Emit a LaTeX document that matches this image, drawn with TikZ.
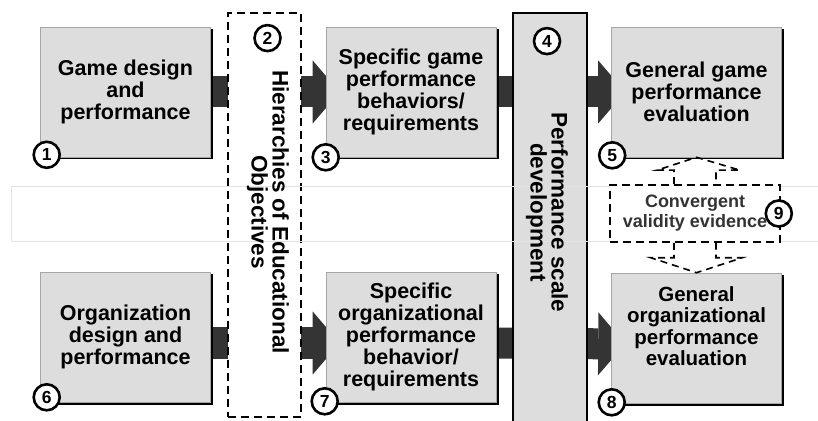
\documentclass[tikz,border=0pt]{standalone}
\usepackage{fontspec}
\setmainfont{Liberation Sans}
\usetikzlibrary{arrows.meta,shadows,backgrounds}
\definecolor{boxgray}{RGB}{221,221,221}
\definecolor{arrowgray}{RGB}{52,52,52}
\begin{document}
\begin{tikzpicture}[x=1pt,y=1pt]
    \tikzstyle{every node}+=[inner sep=0pt, align=center]
    \tikzstyle{box}=[draw=gray!70, line width=0.6pt, fill=boxgray, minimum width=170pt, minimum height=130pt, font=\fontsize{21.5}{22}\selectfont\bfseries, drop shadow={shadow xshift=2.5pt, shadow yshift=-2.5pt, fill=black, opacity=1}]
    \tikzstyle{num}=[circle, draw=black, line width=2.6pt, fill=white, minimum size=26pt, font=\fontsize{17.5}{17.5}\selectfont\bfseries]
    \tikzstyle{dashbox}=[draw=black, line width=1.8pt, dash pattern=on 8pt off 5pt, fill=white]
    \tikzstyle{sidetext}=[rotate=-90, font=\fontsize{22.5}{21}\selectfont\bfseries]
    \tikzstyle{bigarrow}=[draw=arrowgray, line width=31pt, -{Triangle[length=27pt, width=63pt, line width=0pt, fill=arrowgray]}]
    \tikzstyle{hollowarrow}=[draw=black, line width=1.6pt, dash pattern=on 7pt off 5pt, line join=miter]
    \useasboundingbox (0,0) rectangle (818,420);
    \node [box] (b1) at (125.5,328) {Game design\\and\\performance};
    \node [box] (b3) at (411,328) {Specific game\\performance\\behaviors/\\requirements};
    \node [box] (b5) at (696.5,328) {General game\\performance\\evaluation};
    \node [box] (b6) at (125.5,83) {Organization\\design and\\performance};
    \node [box] (b7) at (411,83) {Specific\\organizational\\performance\\behavior/\\requirements};
    \node [box] (b8) at (696.5,82) {};
    \node [font=\fontsize{20.5}{21.5}\selectfont\bfseries] (b8text) at (696.5,94) {General\\organizational\\performance\\evaluation};
    \begin{scope}[on background layer]
    \draw [bigarrow] (b1.east) -- ([xshift=14pt]b3.west);
    \draw [bigarrow] (b3.east) -- ([xshift=14pt]b5.west);
    \draw [bigarrow] ([yshift=-6pt]b6.east) -- ([shift={(14pt,-6pt)}]b7.west);
    \draw [bigarrow] ([yshift=-6pt]b7.east) -- ([shift={(14pt,-6pt)}]b8.west);
    \end{scope}
    \node [dashbox, minimum width=73pt, minimum height=404pt] (hier) at (264.5,205) {};
    \node [draw=black, line width=1.8pt, fill=boxgray, minimum width=74pt, minimum height=420pt] (scale) at (550,197) {};
    \draw [gray!22, line width=0.8pt] (818,234) -- (11,234) -- (11,179) -- (818,179);
    \node [sidetext] (hiertext) at (268,208) {Hierarchies of Educational\\Objectives};
    \node [sidetext] (scaletext) at (547,207.5) {Performance scale\\development};
    \node [dashbox, line width=1.6pt, minimum width=170pt, minimum height=57pt, text=black!80, font=\fontsize{18}{20}\selectfont\bfseries] (b9) at (695,206.5) {Convergent\\validity evidence};
    \draw [hollowarrow] ([xshift=-21pt]b9.north) -- ([shift={(-21pt,14pt)}]b9.north) -- ([shift={(-38pt,14pt)}]b9.north) -- (b5.south) -- ([shift={(45pt,14pt)}]b9.north) -- ([shift={(21pt,14pt)}]b9.north) -- ([xshift=21pt]b9.north);
    \draw [hollowarrow] ([xshift=-21pt]b9.south) -- ([shift={(-21pt,-15pt)}]b9.south) -- ([shift={(-44pt,-15pt)}]b9.south) -- (b8.north) -- ([shift={(47pt,-15pt)}]b9.south) -- ([shift={(21pt,-15pt)}]b9.south) -- ([xshift=21pt]b9.south);
    \node [num] (n1) at ([shift={(6.5pt,2.5pt)}]b1.south west) {1};
    \node [num] (n2) at ([shift={(3pt,-26pt)}]hier.north) {2};
    \node [num] (n3) at (b3.south west) {3};
    \node [num] (n4) at ([shift={(-3pt,-29pt)}]scale.north) {4};
    \node [num] (n5) at ([shift={(1pt,2pt)}]b5.south west) {5};
    \node [num] (n6) at ([shift={(6.5pt,5pt)}]b6.south west) {6};
    \node [num] (n7) at ([shift={(-1pt,1pt)}]b7.south west) {7};
    \node [num] (n8) at ([shift={(0.5pt,1pt)}]b8.south west) {8};
    \node [num] (n9) at ([xshift=-2pt]b9.east) {9};
\end{tikzpicture}
\end{document}
